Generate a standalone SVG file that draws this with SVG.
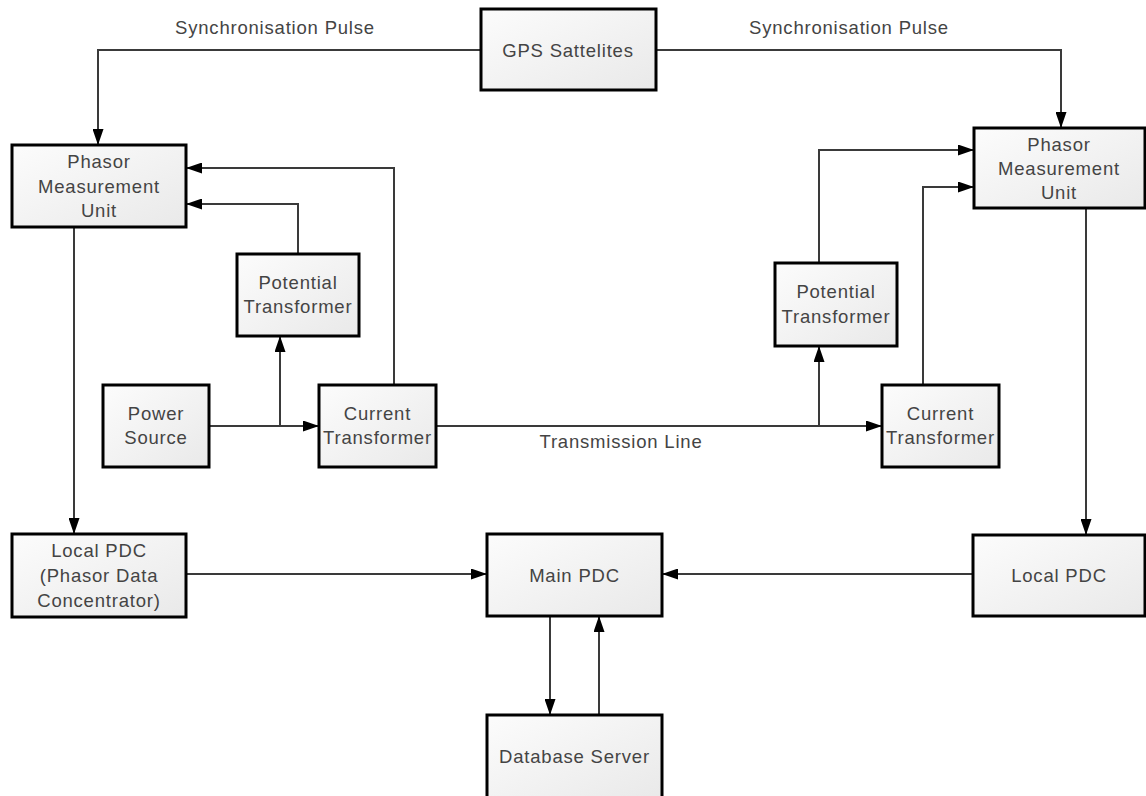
<svg xmlns="http://www.w3.org/2000/svg" width="1146" height="796" viewBox="0 0 1146 796">
  <defs>
    <linearGradient id="boxFill" x1="0" y1="0" x2="1" y2="1">
      <stop offset="0" stop-color="#fcfcfc"/>
      <stop offset="1" stop-color="#e9e9e9"/>
    </linearGradient>
    <marker id="arrow" viewBox="0 0 16 11" refX="16" refY="5.5" markerWidth="16" markerHeight="11" markerUnits="userSpaceOnUse" orient="auto">
      <path d="M0,0 L16,5.5 L0,11 Z" fill="#000"/>
    </marker>
    <style>
      .box { fill: url(#boxFill); stroke: #000; stroke-width: 3; }
      .lbl { font-family: "Liberation Sans", Arial, sans-serif; font-size: 18.5px; letter-spacing: 0.8px; fill: #444; text-anchor: middle; }
      .wire { fill: none; stroke: #3a3a3a; stroke-width: 2; }
      .arr { marker-end: url(#arrow); }
    </style>
  </defs>
  <rect width="1146" height="796" fill="#fff"/>

  <!-- connectors -->
  <g id="connectors">
    <!-- GPS sync pulses -->
    <path class="wire arr" d="M481,50 H98 V145"/>
    <path class="wire arr" d="M656,50 H1061 V128"/>
    <!-- left side measurement chain -->
    <path class="wire arr" d="M209,426 H319"/>
    <path class="wire arr" d="M280,426 V336"/>
    <path class="wire arr" d="M298,254 V204 H186"/>
    <path class="wire arr" d="M394,385 V168 H186"/>
    <!-- transmission line -->
    <path class="wire arr" d="M436,426 H882"/>
    <!-- right side measurement chain -->
    <path class="wire arr" d="M819,426 V346"/>
    <path class="wire arr" d="M819,263 V150 H974"/>
    <path class="wire arr" d="M923,385 V187 H974"/>
    <!-- PMUs to local PDCs -->
    <path class="wire arr" d="M74,227 V534"/>
    <path class="wire arr" d="M1086,208 V535"/>
    <!-- local PDCs to main PDC -->
    <path class="wire arr" d="M186,574 H487"/>
    <path class="wire arr" d="M973,574 H662"/>
    <!-- main PDC and database -->
    <path class="wire arr" d="M550,616 V715"/>
    <path class="wire arr" d="M599,715 V616"/>
  </g>

  <!-- connector labels -->
  <g id="edge-labels">
    <text class="lbl" x="275" y="34">Synchronisation Pulse</text>
    <text class="lbl" x="849" y="34">Synchronisation Pulse</text>
    <text class="lbl" x="621" y="448">Transmission Line</text>
  </g>

  <g id="gps">
    <rect class="box" x="481" y="9" width="175" height="81"/>
    <text class="lbl" x="568" y="57">GPS Sattelites</text>
  </g>

  <g id="pmu-left">
    <rect class="box" x="12" y="145" width="174" height="82"/>
    <text class="lbl" x="99" y="168">Phasor</text>
    <text class="lbl" x="99" y="193">Measurement</text>
    <text class="lbl" x="99" y="217">Unit</text>
  </g>

  <g id="pt-left">
    <rect class="box" x="237" y="254" width="122" height="82"/>
    <text class="lbl" x="298" y="289">Potential</text>
    <text class="lbl" x="298" y="313">Transformer</text>
  </g>

  <g id="power-source">
    <rect class="box" x="103" y="385" width="106" height="82"/>
    <text class="lbl" x="156" y="420">Power</text>
    <text class="lbl" x="156" y="444">Source</text>
  </g>

  <g id="ct-left">
    <rect class="box" x="319" y="385" width="117" height="82"/>
    <text class="lbl" x="377.5" y="420">Current</text>
    <text class="lbl" x="377.5" y="444">Transformer</text>
  </g>

  <g id="pmu-right">
    <rect class="box" x="974" y="128" width="171" height="80"/>
    <text class="lbl" x="1059" y="151">Phasor</text>
    <text class="lbl" x="1059" y="175">Measurement</text>
    <text class="lbl" x="1059" y="199">Unit</text>
  </g>

  <g id="pt-right">
    <rect class="box" x="775" y="263" width="122" height="83"/>
    <text class="lbl" x="836" y="298">Potential</text>
    <text class="lbl" x="836" y="323">Transformer</text>
  </g>

  <g id="ct-right">
    <rect class="box" x="882" y="385" width="117" height="82"/>
    <text class="lbl" x="940.5" y="420">Current</text>
    <text class="lbl" x="940.5" y="444">Transformer</text>
  </g>

  <g id="local-pdc-left">
    <rect class="box" x="12" y="534" width="174" height="83"/>
    <text class="lbl" x="99" y="557">Local PDC</text>
    <text class="lbl" x="99" y="582">(Phasor Data</text>
    <text class="lbl" x="99" y="607">Concentrator)</text>
  </g>

  <g id="main-pdc">
    <rect class="box" x="487" y="534" width="175" height="82"/>
    <text class="lbl" x="574.5" y="582">Main PDC</text>
  </g>

  <g id="local-pdc-right">
    <rect class="box" x="973" y="535" width="172" height="81"/>
    <text class="lbl" x="1059" y="582">Local PDC</text>
  </g>

  <g id="database-server">
    <rect class="box" x="487" y="715" width="175" height="84"/>
    <text class="lbl" x="574.5" y="763">Database Server</text>
  </g>
</svg>
